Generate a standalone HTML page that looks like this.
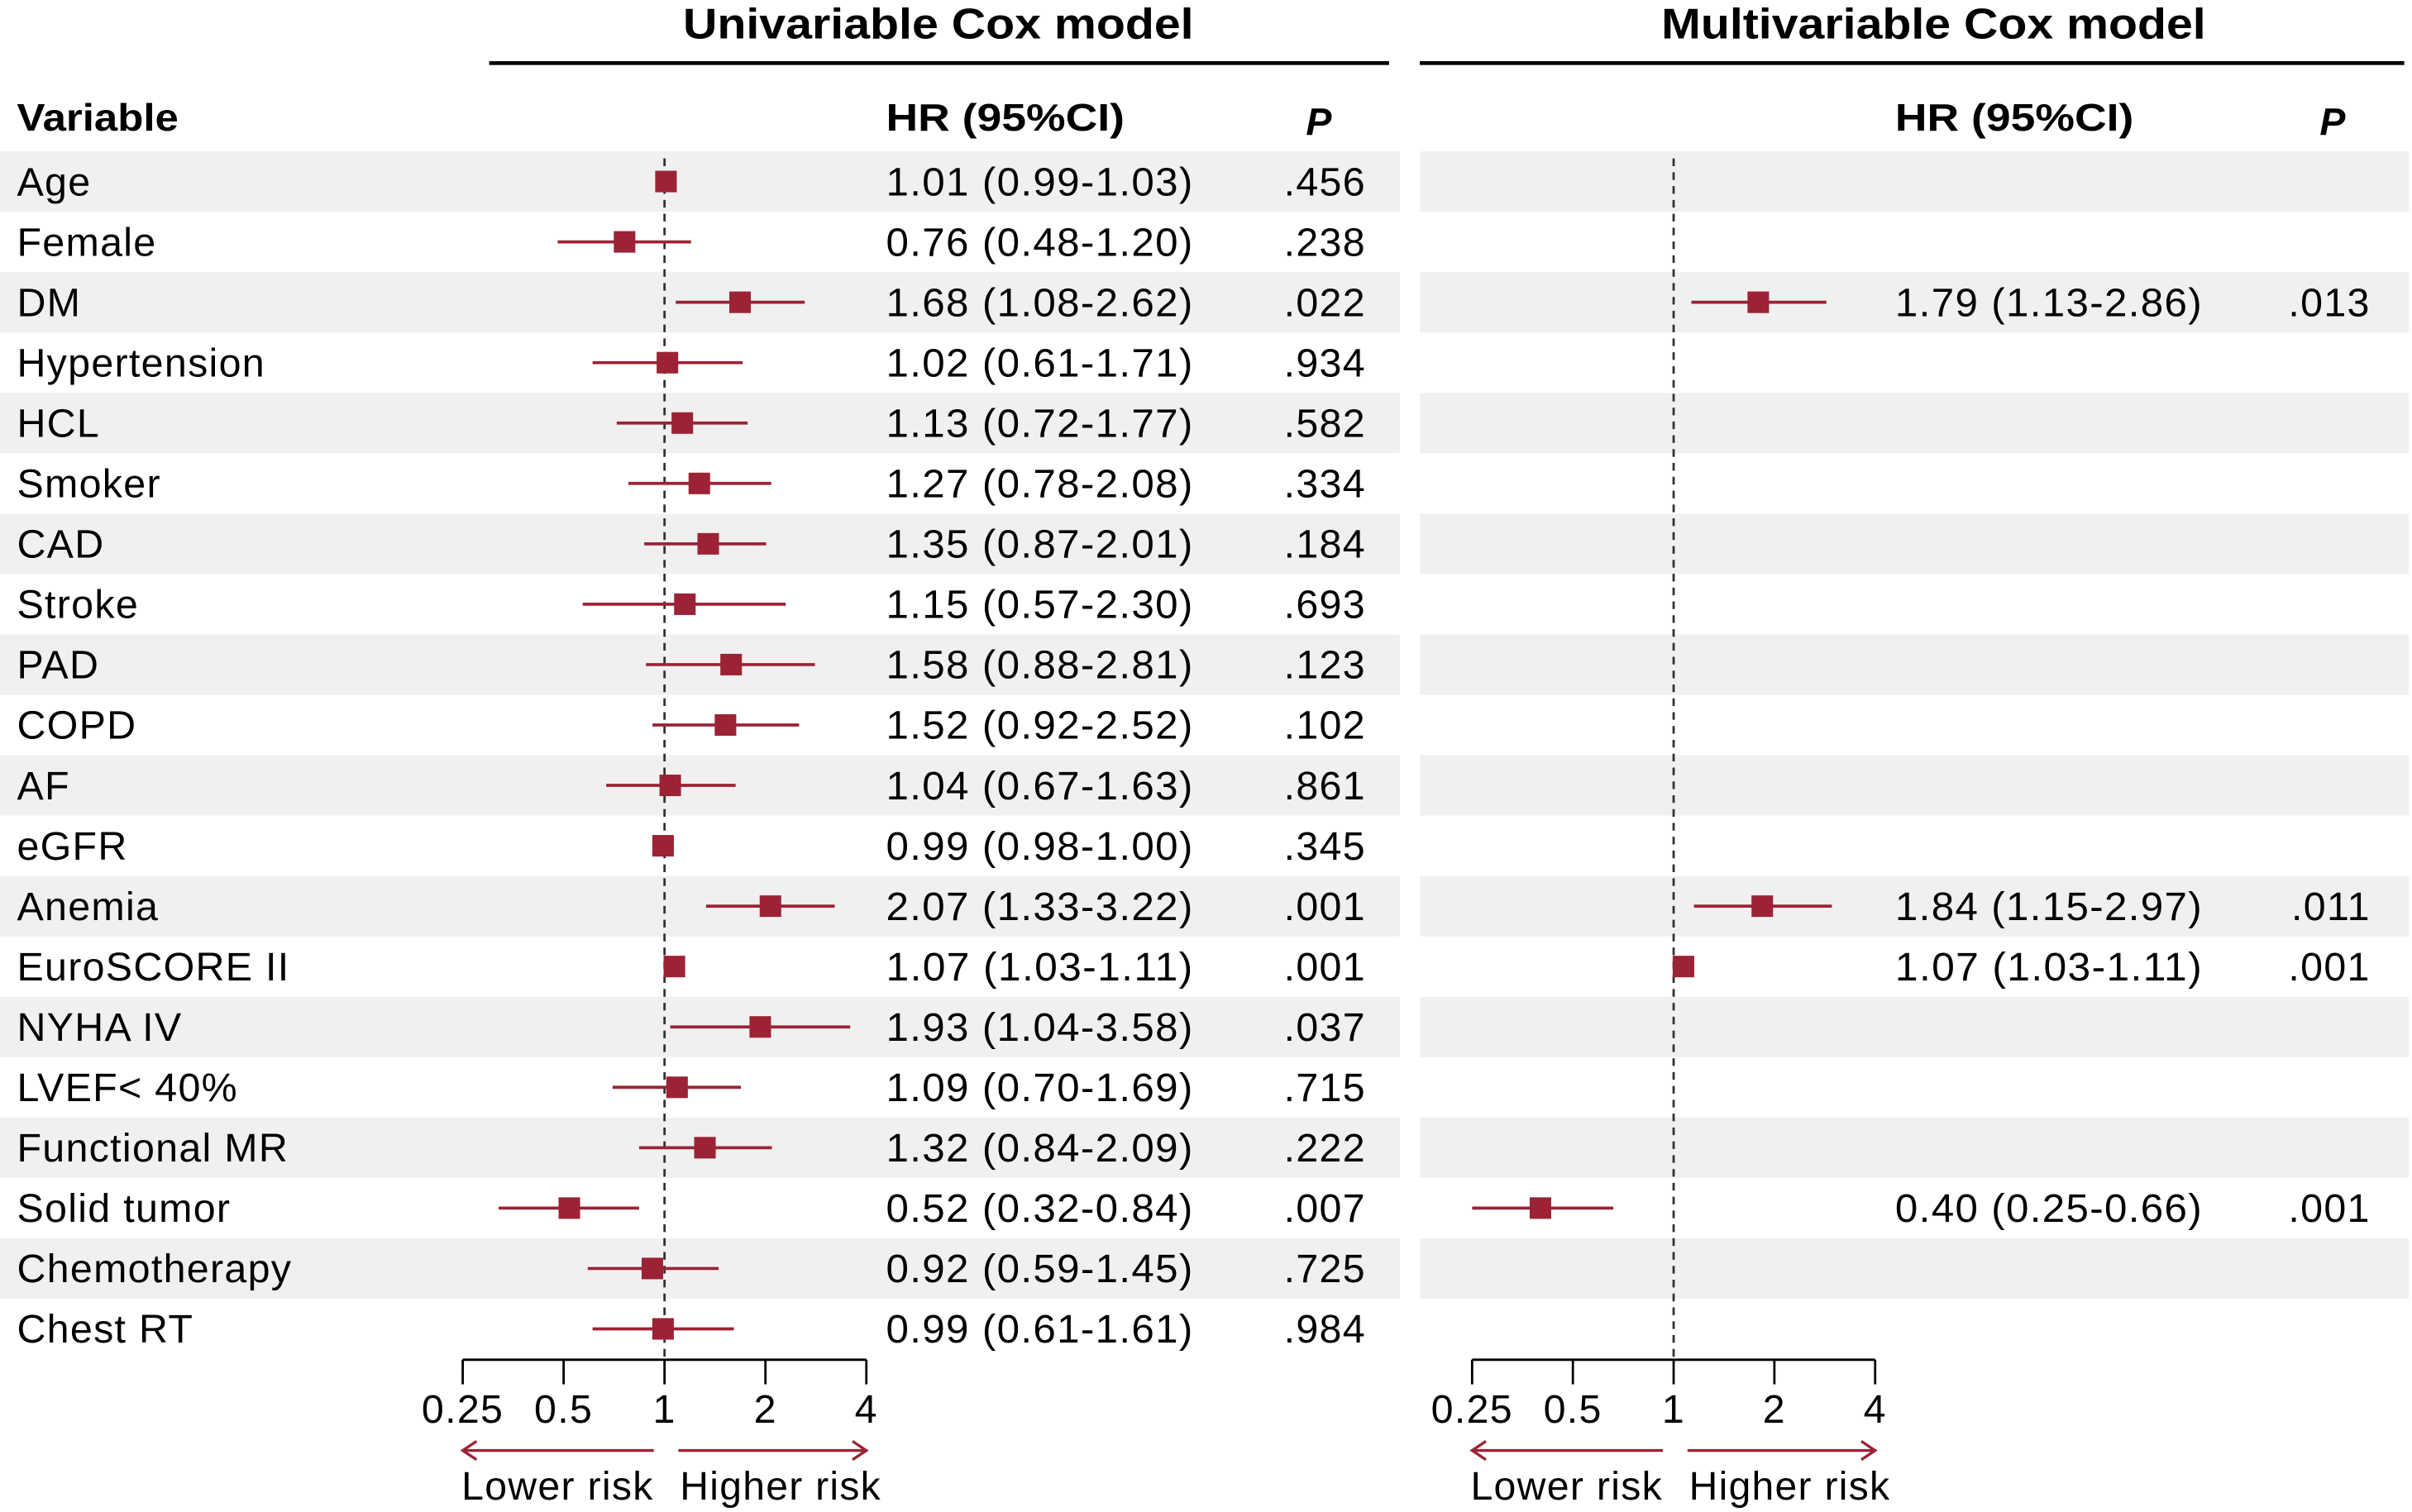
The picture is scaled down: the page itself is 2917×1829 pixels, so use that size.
<!DOCTYPE html>
<html><head><meta charset="utf-8"><style>
html,body{margin:0;padding:0;background:#fff}
svg{display:block;font-family:"Liberation Sans",Arial,sans-serif}
</style></head><body>
<svg id="chart" width="2917" height="1829" viewBox="0 0 1568 983" preserveAspectRatio="none" xmlns="http://www.w3.org/2000/svg">
<g id="bands"></g>
<text x="444" y="25" font-size="28" font-weight="bold" textLength="332" lengthAdjust="spacingAndGlyphs">Univariable Cox model</text>
<line x1="318" y1="41" x2="903" y2="41" stroke="#000" stroke-width="2.5"/>
<text x="1080" y="25" font-size="28" font-weight="bold" textLength="354" lengthAdjust="spacingAndGlyphs">Multivariable Cox model</text>
<line x1="923" y1="41" x2="1563" y2="41" stroke="#000" stroke-width="2.5"/>
<text x="11" y="85" font-size="25" font-weight="bold" textLength="105" lengthAdjust="spacingAndGlyphs">Variable</text>
<text x="576" y="85" font-size="25" font-weight="bold" textLength="155" lengthAdjust="spacingAndGlyphs">HR (95%CI)</text>
<text x="849" y="88" font-size="25" font-weight="bold" font-style="italic">P</text>
<text x="1232" y="85" font-size="25" font-weight="bold" textLength="155" lengthAdjust="spacingAndGlyphs">HR (95%CI)</text>
<text x="1508" y="88" font-size="25" font-weight="bold" font-style="italic">P</text>
<g id="plot" font-size="26" letter-spacing="0.7"></g>
</svg>
<script>
const variables=["Age","Female","DM","Hypertension","HCL","Smoker","CAD","Stroke","PAD","COPD","AF","eGFR","Anemia","EuroSCORE II","NYHA IV","LVEF< 40%","Functional MR","Solid tumor","Chemotherapy","Chest RT"];
const uniHR=[1.01,0.76,1.68,1.02,1.13,1.27,1.35,1.15,1.58,1.52,1.04,0.99,2.07,1.07,1.93,1.09,1.32,0.52,0.92,0.99];
const uniLo=[0.99,0.48,1.08,0.61,0.72,0.78,0.87,0.57,0.88,0.92,0.67,0.98,1.33,1.03,1.04,0.70,0.84,0.32,0.59,0.61];
const uniHi=[1.03,1.20,2.62,1.71,1.77,2.08,2.01,2.30,2.81,2.52,1.63,1.00,3.22,1.11,3.58,1.69,2.09,0.84,1.45,1.61];
const uniP=[".456",".238",".022",".934",".582",".334",".184",".693",".123",".102",".861",".345",".001",".001",".037",".715",".222",".007",".725",".984"];
const multiIdx=[2,12,13,17];
const multiHR=[1.79,1.84,1.07,0.40];
const multiLo=[1.13,1.15,1.03,0.25];
const multiHi=[2.86,2.97,1.11,0.66];
const multiP=[".013",".011",".001",".001"];
const ticks=[0.25,0.5,1,2,4];
const tickLabels=["0.25","0.5","1","2","4"];

const NS="http://www.w3.org/2000/svg";
const plot=document.getElementById('plot'), bands=document.getElementById('bands');
const COL="#9b2335";
function mk(tag,attrs,parent,text){const e=document.createElementNS(NS,tag);for(const k in attrs)e.setAttribute(k,attrs[k]);if(text!==undefined)e.textContent=text;parent.appendChild(e);return e;}
const rowY=i=>118+i*39.26;
const xUni=v=>432+Math.log2(v)*65.6;
const xMul=v=>1088+Math.log2(v)*65.5;
const fmt=v=>v.toFixed(2);

variables.forEach((v,i)=>{
  const y=rowY(i);
  if(i%2===0){
    const b1=mk('rect',{x:0,y:y-19.6,width:910,height:39.2,fill:'#f0f0f0'},bands);
    
    
    const b2=mk('rect',{x:923,y:y-19.6,width:643,height:39.2,fill:'#f0f0f0'},bands);
    
    
  }
  const t=mk('text',{x:11,y:y+9},plot,v);
  
  
  const h=mk('text',{x:576,y:y+9,textLength:200,lengthAdjust:'spacingAndGlyphs'},plot,fmt(uniHR[i])+" ("+fmt(uniLo[i])+"-"+fmt(uniHi[i])+")");
  
  
  const p=mk('text',{x:888,y:y+9,'text-anchor':'end'},plot,uniP[i]);
  
  
});
function axis(xf,label){
  const d=mk('line',{x1:xf(1),y1:103,x2:xf(1),y2:884,stroke:'#333','stroke-width':1.5,'stroke-dasharray':'5,4'},plot);
  
  
  const a=mk('line',{x1:xf(0.25),y1:884,x2:xf(4),y2:884,stroke:'#000','stroke-width':1.5},plot);
  
  
  ticks.forEach((t,k)=>{
    const tk=mk('line',{x1:xf(t),y1:884,x2:xf(t),y2:900,stroke:'#000','stroke-width':1.5},plot);
    
    
    const tl=mk('text',{x:xf(t),y:925,'text-anchor':'middle'},plot,tickLabels[k]);
    
    
  });
  const x1=xf(1);
  const la=mk('path',{d:`M${x1-7} 943 H${xf(0.25)} M${xf(0.25)+9} 937 L${xf(0.25)} 943 L${xf(0.25)+9} 949`,stroke:COL,'stroke-width':1.8,fill:'none'},plot);
  
  
  const ra=mk('path',{d:`M${x1+9} 943 H${xf(4)} M${xf(4)-9} 937 L${xf(4)} 943 L${xf(4)-9} 949`,stroke:COL,'stroke-width':1.8,fill:'none'},plot);
  
  
  const lt=mk('text',{x:x1-132,y:975,textLength:125,lengthAdjust:'spacingAndGlyphs'},plot,'Lower risk');
  
  
  const ht=mk('text',{x:x1+10,y:975,textLength:131,lengthAdjust:'spacingAndGlyphs'},plot,'Higher risk');
  
  
}
axis(xUni,'uni');axis(xMul,'multi');
function mark(xf,y,hr,lo,hi,label){
  const l=mk('line',{x1:xf(lo),y1:y,x2:xf(hi),y2:y,stroke:COL,'stroke-width':2},plot);
  
  
  const s=mk('rect',{x:xf(hr)-7,y:y-7,width:14,height:14,fill:COL},plot);
  
  
}
variables.forEach((v,i)=>mark(xUni,rowY(i),uniHR[i],uniLo[i],uniHi[i],'uni'));
multiIdx.forEach((ri,j)=>{
  const y=rowY(ri);
  mark(xMul,y,multiHR[j],multiLo[j],multiHi[j],'multi');
  const h=mk('text',{x:1232,y:y+9,textLength:200,lengthAdjust:'spacingAndGlyphs'},plot,fmt(multiHR[j])+" ("+fmt(multiLo[j])+"-"+fmt(multiHi[j])+")");
  
  
  const p=mk('text',{x:1541,y:y+9,'text-anchor':'end'},plot,multiP[j]);
  
  
});
</script>
</body></html>
